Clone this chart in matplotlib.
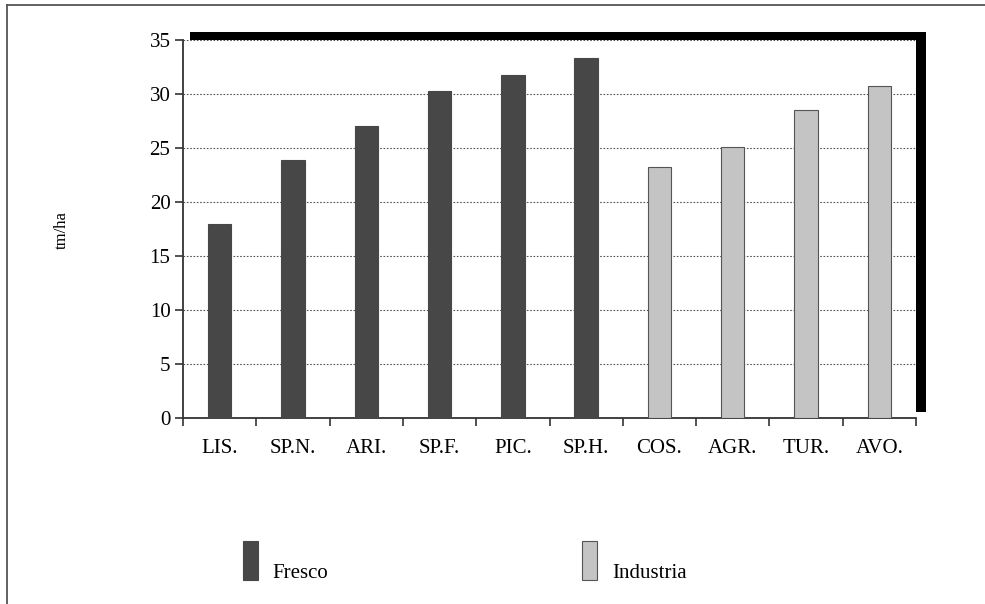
import numpy as np
import matplotlib.pyplot as plt
from matplotlib.patches import Rectangle
from matplotlib.lines import Line2D

# === Datos ===
categorias = ['LIS.', 'SP.N.', 'ARI.', 'SP.F.', 'PIC.', 'SP.H.', 'COS.', 'AGR.', 'TUR.', 'AVO.']
fresco = [18.0, 23.9, 27.0, 30.3, 31.8, 33.3]
industria = [23.2, 25.1, 28.5, 30.7]
y_ticks = [0, 5, 10, 15, 20, 25, 30, 35]

plt.rcParams['font.family'] = ['Liberation Serif', 'DejaVu Serif']

COLOR_FRESCO = '#474747'
COLOR_INDUSTRIA = '#c4c4c4'

fig = plt.figure(figsize=(9.85, 6.04), dpi=100)

# === Marco exterior ===
fig.add_artist(Line2D([7 / 985, 7 / 985], [0, 1 - 5 / 604], transform=fig.transFigure,
                      color='#555555', lw=1.3))
fig.add_artist(Line2D([7 / 985, 1], [1 - 5 / 604, 1 - 5 / 604], transform=fig.transFigure,
                      color='#555555', lw=1.3))

# === Sombra negra detras del area de trazado ===
fig.patches.append(Rectangle((190 / 985, 1 - 412 / 604), 736 / 985, 380 / 604,
                             transform=fig.transFigure, facecolor='black',
                             edgecolor='none', zorder=0))

ax = fig.add_axes([183 / 985, 1 - 418 / 604, 733 / 985, 378 / 604])
ax.set_facecolor('white')
ax.set_zorder(1)

x_fresco = np.arange(len(fresco)) + 0.5
x_industria = np.arange(len(fresco), len(categorias)) + 0.5
ax.bar(x_fresco, fresco, width=0.32, color=COLOR_FRESCO, edgecolor=COLOR_FRESCO,
       linewidth=0.8, zorder=3)
ax.bar(x_industria, industria, width=0.32, color=COLOR_INDUSTRIA, edgecolor='#555555',
       linewidth=0.8, zorder=3)

ax.set_xlim(0, len(categorias))
ax.set_ylim(0, 35)
ax.set_yticks(y_ticks)
ax.set_yticklabels([str(v) for v in y_ticks], fontsize=15)
ax.yaxis.grid(True, linestyle=(0, (1.5, 1.5)), color='#555555', linewidth=0.8, zorder=1)

ax.set_xticks(np.arange(len(categorias) + 1))
ax.set_xticklabels([])
ax.set_xticks(np.arange(len(categorias)) + 0.5, minor=True)
ax.set_xticklabels(categorias, minor=True, fontsize=15)
ax.tick_params(axis='x', which='major', direction='out', length=6, width=1.2, color='#333333')
ax.tick_params(axis='x', which='minor', length=0, pad=15)
ax.tick_params(axis='y', direction='out', length=6, width=1.2, color='#333333', pad=3)

for lado in ['top', 'right']:
    ax.spines[lado].set_visible(False)
for lado in ['left', 'bottom']:
    ax.spines[lado].set_linewidth(1.3)
    ax.spines[lado].set_color('#333333')

fig.text(62 / 985, 1 - 230 / 604, 'tm/ha', rotation=90, ha='center', va='center', fontsize=12)

# === Leyenda manual ===
fig.patches.append(Rectangle((243 / 985, 1 - 580 / 604), 15 / 985, 39 / 604,
                             transform=fig.transFigure, facecolor=COLOR_FRESCO,
                             edgecolor=COLOR_FRESCO, lw=0.8))
fig.text(272 / 985, 1 - 578 / 604, 'Fresco', ha='left', va='baseline', fontsize=15)
fig.patches.append(Rectangle((582 / 985, 1 - 580 / 604), 15 / 985, 39 / 604,
                             transform=fig.transFigure, facecolor=COLOR_INDUSTRIA,
                             edgecolor='#555555', lw=0.8))
fig.text(612 / 985, 1 - 578 / 604, 'Industria', ha='left', va='baseline', fontsize=15)

fig.savefig('out.png', dpi=100)
